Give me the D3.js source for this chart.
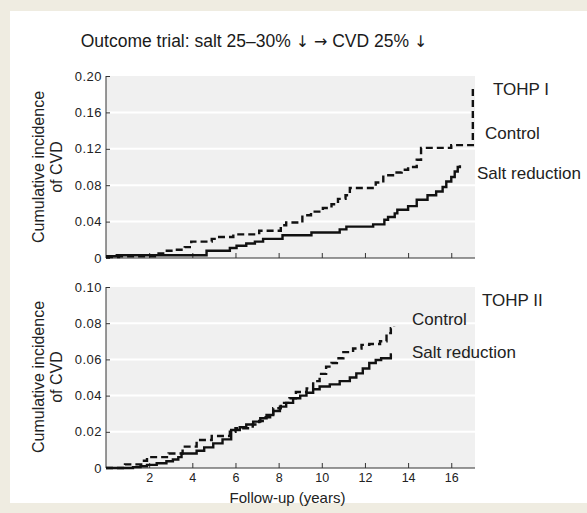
<!DOCTYPE html>
<html>
<head>
<meta charset="utf-8">
<script src="https://cdn.jsdelivr.net/npm/d3@7"></script>
<style>
html,body{margin:0;padding:0;background:#efece1;}
svg{display:block;font-family:"Liberation Sans",Arial,Helvetica,sans-serif;}
</style>
</head>
<body>
<svg id="chart" width="587" height="513"></svg>
<script>
// ---- data ----
const titleParts = ["Outcome trial: salt 25\u201330% ", "\u2193", " ", "\u2192", " CVD 25% ", "\u2193"];
const xTicks = [2, 4, 6, 8, 10, 12, 14, 16];
const yTicksTop = [0, 0.04, 0.08, 0.12, 0.16, 0.20];
const yTicksBottom = [0, 0.02, 0.04, 0.06, 0.08, 0.10];
const seriesNames = ["Control", "Salt reduction"];
const trialNames = ["TOHP I", "TOHP II"];

// TOHP I: [follow-up years, cumulative incidence]
const tohp1Control = [[0,0.001],[0.6,0.002],[2.35,0.005],[2.75,0.008],[3.2,0.009],[3.65,0.012],[3.95,0.018],[4.9,0.021],[5.1,0.023],[5.9,0.026],[7.1,0.030],[8.1,0.036],[8.35,0.039],[9.1,0.047],[9.5,0.051],[10.05,0.055],[10.45,0.059],[10.75,0.065],[11.1,0.069],[11.3,0.077],[12.5,0.083],[12.85,0.091],[13.3,0.094],[13.7,0.097],[14.0,0.100],[14.4,0.108],[14.6,0.121],[16.0,0.124],[17.0,0.19]];
const tohp1Salt = [[0,0.002],[0.5,0.003],[4.66,0.008],[5.74,0.011],[6.05,0.0135],[6.5,0.016],[6.9,0.018],[7.28,0.021],[8.18,0.025],[9.52,0.028],[10.83,0.0315],[11.14,0.0345],[12.38,0.037],[12.9,0.042],[13.07,0.045],[13.38,0.049],[13.5,0.053],[14.0,0.057],[14.4,0.064],[14.9,0.069],[15.3,0.073],[15.6,0.078],[15.77,0.084],[16.0,0.089],[16.16,0.095],[16.3,0.100],[16.4,0.102]];

// TOHP II
const tohp2Control = [[0,0],[0.88,0.002],[1.7,0.004],[1.9,0.006],[2.9,0.008],[3.55,0.0118],[4.2,0.0155],[4.9,0.0177],[5.74,0.020],[6.0,0.022],[6.8,0.024],[7.1,0.026],[7.4,0.028],[7.75,0.033],[8.1,0.036],[8.5,0.0385],[8.8,0.042],[9.3,0.044],[9.6,0.048],[9.9,0.052],[10.2,0.056],[10.45,0.058],[10.7,0.0606],[11.0,0.064],[11.45,0.066],[11.84,0.068],[12.2,0.0685],[12.7,0.070],[13.0,0.0745],[13.2,0.0772],[13.35,0.078]];
const tohp2Salt = [[0,0],[1.25,0.0005],[1.6,0.001],[1.9,0.0017],[2.35,0.0026],[2.8,0.0037],[3.1,0.0047],[3.35,0.006],[3.5,0.008],[4.2,0.0095],[4.55,0.0114],[4.97,0.0136],[5.4,0.0158],[5.8,0.021],[6.2,0.0225],[6.5,0.024],[6.82,0.0256],[7.15,0.0275],[7.44,0.0293],[7.75,0.0315],[8.06,0.0339],[8.35,0.036],[8.67,0.0385],[9.0,0.040],[9.29,0.0416],[9.6,0.0435],[9.9,0.045],[10.37,0.0462],[10.83,0.048],[11.3,0.050],[11.6,0.0523],[11.9,0.055],[12.2,0.058],[12.5,0.0597],[12.75,0.0606],[13.2,0.0628],[13.25,0.0628]];

// ---- drawing ----
const svg = d3.select("#chart");
svg.append("rect").attr("x",10).attr("y",11).attr("width",577).attr("height",492).attr("fill","#ffffff");

const title = svg.append("text").attr("x",254).attr("y",47).attr("text-anchor","middle")
  .attr("font-size",17.5).attr("fill","#1a1a1a");
titleParts.forEach(p=>{
  const isArrow = p==="\u2193" || p==="\u2192";
  title.append("tspan").attr("font-family", isArrow ? "DejaVu Sans" : null)
    .attr("font-size", isArrow ? 16 : null).text(p);
});

const x = d3.scaleLinear().domain([0,17.1]).range([106,475]);

function panel(opts){
  const y = d3.scaleLinear().domain([0, opts.yMax]).range([opts.y0, opts.y1]);
  const g = svg.append("g");
  g.append("rect").attr("x",x(0)).attr("y",y(opts.yMax)).attr("width",x(17.1)-x(0))
    .attr("height",y(0)-y(opts.yMax)).attr("fill","#f0f0f0");
  g.selectAll("line.grid").data(opts.yTicks.slice(1,-1)).join("line").attr("class","grid")
    .attr("x1",x(0)).attr("x2",x(17.1)).attr("y1",d=>y(d)).attr("y2",d=>y(d))
    .attr("stroke","#ffffff").attr("stroke-width",2);

  const yAxis = d3.axisLeft(y).tickValues(opts.yTicks).tickSize(-4).tickPadding(4)
    .tickFormat(d=> d===0 ? "0" : d3.format(".2f")(d));
  const ya = g.append("g").attr("transform",`translate(${x(0)},0)`).call(yAxis);
  ya.attr("font-size",13).attr("font-family","Liberation Sans, Arial, sans-serif");
  ya.select(".domain").attr("stroke","#333").attr("d",`M0,${y(opts.yMax)}V${y(0)}`);
  ya.selectAll(".tick line").attr("stroke","#333");
  ya.selectAll(".tick text").attr("letter-spacing",0.5).attr("fill","#222");

  const xAxis = d3.axisBottom(x).tickValues(xTicks).tickSize(-5).tickPadding(5)
    .tickFormat(opts.xLabels ? d3.format("d") : "");
  const xa = g.append("g").attr("transform",`translate(0,${y(0)})`).call(xAxis);
  xa.attr("font-size",12.5).attr("font-family","Liberation Sans, Arial, sans-serif");
  xa.select(".domain").attr("stroke","#333").attr("d",`M${x(0)},0H${x(17.1)}`);
  xa.selectAll(".tick line").attr("stroke","#333");
  xa.selectAll(".tick text").attr("fill","#222");

  const line = d3.line().x(d=>x(d[0])).y(d=>y(d[1])).curve(d3.curveStepAfter);
  g.append("path").datum(opts.salt).attr("d",line).attr("fill","none")
    .attr("stroke","#111").attr("stroke-width",2.4);
  g.append("path").datum(opts.control).attr("d",line).attr("fill","none")
    .attr("stroke","#111").attr("stroke-width",2.4).attr("stroke-dasharray","7,4");

  // y label
  const yl = g.append("text").attr("transform",`translate(0,${opts.labelY}) rotate(-90)`)
    .attr("text-anchor","middle").attr("font-size",16).attr("fill","#222");
  yl.append("tspan").attr("x",0).attr("y",43.5).text("Cumulative incidence");
  yl.append("tspan").attr("x",0).attr("y",61.5).text("of CVD");

  // legend labels
  opts.legend.forEach(l=>{
    g.append("text").attr("x",l.x).attr("y",l.y).attr("font-size",17).attr("fill","#222").text(l.t);
  });
}

panel({yMax:0.20, y0:258, y1:76, yTicks:yTicksTop, xLabels:false,
  control:tohp1Control, salt:tohp1Salt, labelY:167,
  legend:[{t:trialNames[0],x:493,y:95},{t:seriesNames[0],x:485,y:139},{t:seriesNames[1],x:477,y:179}]});

panel({yMax:0.10, y0:468, y1:287, yTicks:yTicksBottom, xLabels:true,
  control:tohp2Control, salt:tohp2Salt, labelY:377,
  legend:[{t:trialNames[1],x:482,y:306},{t:seriesNames[0],x:412,y:325},{t:seriesNames[1],x:412,y:358}]});

svg.append("text").attr("x",287.5).attr("y",503).attr("text-anchor","middle")
  .attr("font-size",15).attr("fill","#222").text("Follow-up (years)");
</script>
</body>
</html>
